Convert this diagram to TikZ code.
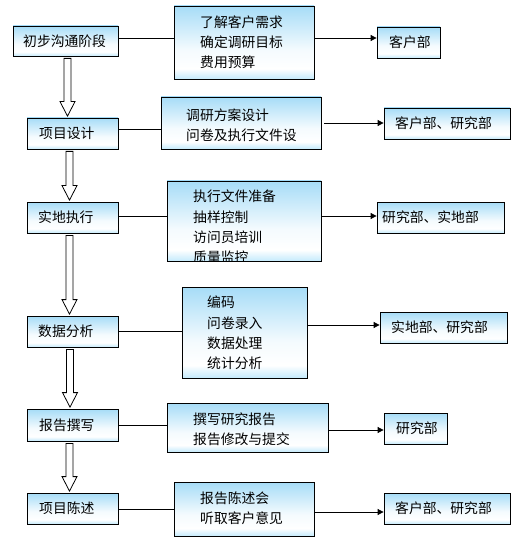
\documentclass[tikz,border=0pt]{standalone}
\usepackage{fontspec}
\newfontfamily\cjk{Noto Sans CJK SC}
\usetikzlibrary{arrows.meta,calc}
\definecolor{boxtop}{RGB}{166,220,247}
\definecolor{boxbot}{RGB}{196,234,252}
\colorlet{boxmid}{white!88!boxtop}
\pgfdeclareverticalshading{boxshade}{100bp}{color(0bp)=(boxbot); color(25bp)=(boxbot); color(32bp)=(white); color(45bp)=(boxmid); color(75bp)=(boxtop); color(100bp)=(boxtop)}
\tikzset{
  box/.style={draw=black, line width=0.8pt, shading=boxshade, inner sep=0pt},
  txt/.style={font=\cjk\fontsize{13.8pt}{20.2pt}\selectfont, inner sep=0pt, align=left},
  link/.style={draw=black, line width=0.8pt},
  conn/.style={draw=black, line width=0.8pt, -{Triangle[length=6pt,width=6pt]}},
  blockarr/.style={draw=black, fill=white, line width=0.8pt, line join=miter}
}
\newcommand\blockarrow[3]{%
  \draw[blockarr] let \p1=(#1.south), \p2=(#2.north) in
    (#3pt-3.5pt,\y1-2pt) -- (#3pt-3.5pt,\y2+16pt) -- (#3pt-7.5pt,\y2+16pt)
    -- (#3pt,\y2+1.5pt) -- (#3pt+7.5pt,\y2+16pt) -- (#3pt+3.5pt,\y2+16pt)
    -- (#3pt+3.5pt,\y1-2pt) -- cycle;}
\begin{document}
\begin{tikzpicture}[x=1pt,y=-1pt]
\useasboundingbox (0,0) rectangle (519,545);
% left column
\node[box, minimum width=105pt, minimum height=30pt] (L1) at (65.5,41) {};
\node[box, minimum width=91pt, minimum height=31pt] (L2) at (72.5,133.5) {};
\node[box, minimum width=91pt, minimum height=31pt] (L3) at (72.5,217.5) {};
\node[box, minimum width=91pt, minimum height=31pt] (L4) at (72.5,331.5) {};
\node[box, minimum width=91pt, minimum height=32pt] (L5) at (72.5,425) {};
\node[box, minimum width=91pt, minimum height=31pt] (L6) at (72.5,508.5) {};
\node[txt, anchor=west] (L1t) at (23,41) {初步沟通阶段};
\node[txt, anchor=west] (L2t) at (39,133.5) {项目设计};
\node[txt, anchor=west] (L3t) at (38,217.5) {实地执行};
\node[txt, anchor=west] (L4t) at (38,331.5) {数据分析};
\node[txt, anchor=west] (L5t) at (39,425) {报告撰写};
\node[txt, anchor=west] (L6t) at (39,508.5) {项目陈述};
% middle column
\node[box, minimum width=140pt, minimum height=73pt] (M1) at (244,42.5) {};
\node[box, minimum width=160pt, minimum height=52pt] (M2) at (241,123) {};
\node[box, minimum width=154pt, minimum height=80pt] (M3) at (244,221) {};
\node[box, minimum width=125pt, minimum height=91pt] (M4) at (244.5,332.5) {};
\node[box, minimum width=161pt, minimum height=49pt] (M5) at (247.5,427.5) {};
\node[box, minimum width=140pt, minimum height=54pt] (M6) at (244,509) {};
\node[txt, anchor=west] (M1t) at (200,42.5) {了解客户需求\\确定调研目标\\费用预算};
\node[txt, anchor=west] (M2t) at (186,125) {调研方案设计\\问卷及执行文件设};
\begin{scope}
\clip ([shift={(0.5pt,0.5pt)}]M3.south west) rectangle ([shift={(-0.5pt,-0.5pt)}]M3.north east);
\node[txt, anchor=west] (M3t) at (193,227) {执行文件准备\\抽样控制\\访问员培训\\质量监控};
\end{scope}
\node[txt, anchor=west] (M4t) at (207,333) {编码\\问卷录入\\数据处理\\统计分析};
\node[txt, anchor=west] (M5t) at (193,429) {撰写研究报告\\报告修改与提交};
\node[txt, anchor=west] (M6t) at (200,508) {报告陈述会\\听取客户意见};
% right column
\node[box, minimum width=63pt, minimum height=31pt] (R1) at (408.5,42.5) {};
\node[box, minimum width=126pt, minimum height=31pt] (R2) at (447,123.5) {};
\node[box, minimum width=127pt, minimum height=31pt] (R3) at (440.5,217.5) {};
\node[box, minimum width=127pt, minimum height=31pt] (R4) at (443.5,327.5) {};
\node[box, minimum width=63pt, minimum height=31pt] (R5) at (415.5,428.5) {};
\node[box, minimum width=126pt, minimum height=31pt] (R6) at (447,508.5) {};
\node[txt, anchor=west] (R1t) at (389,42.5) {客户部};
\node[txt, anchor=west] (R2t) at (395,123.5) {客户部、研究部};
\node[txt, anchor=west] (R3t) at (382,217.5) {研究部、实地部};
\node[txt, anchor=west] (R4t) at (391,327.5) {实地部、研究部};
\node[txt, anchor=west] (R5t) at (396,428.5) {研究部};
\node[txt, anchor=west] (R6t) at (395,508.5) {客户部、研究部};
% helper levels
\coordinate (la1) at (0,38);  \coordinate (ra1) at (0,38);
\coordinate (la2) at (0,129); \coordinate (ra2) at (0,123);
\coordinate (la3) at (0,216); \coordinate (ra3) at (0,216);
\coordinate (la4) at (0,331); \coordinate (ra4) at (0,325);
\coordinate (la5) at (0,425); \coordinate (ra5) at (0,430);
\coordinate (la6) at (0,509); \coordinate (ra6) at (0,512);
% links left -> middle
\draw[link] (L1.east |- la1) -- (M1.west |- la1);
\draw[link] (L2.east |- la2) -- (M2.west |- la2);
\draw[link] (L3.east |- la3) -- (M3.west |- la3);
\draw[link] (L4.east |- la4) -- (M4.west |- la4);
\draw[link] (L5.east |- la5) -- (M5.west |- la5);
\draw[link] (L6.east |- la6) -- (M6.west |- la6);
% arrows middle -> right
\draw[conn] (M1.east |- ra1) -- (R1.west |- ra1);
\draw[conn] ([xshift=3pt]M2.east |- ra2) -- (R2.west |- ra2);
\draw[conn] (M3.east |- ra3) -- (R3.west |- ra3);
\draw[conn] (M4.east |- ra4) -- (R4.west |- ra4);
\draw[conn] (M5.east |- ra5) -- (R5.west |- ra5);
\draw[conn] (M6.east |- ra6) -- (R6.west |- ra6);
% block arrows down the left column
\blockarrow{L1}{L2}{67.5}
\blockarrow{L2}{L3}{69.5}
\blockarrow{L3}{L4}{69.5}
\blockarrow{L4}{L5}{70}
\blockarrow{L5}{L6}{69.5}
\end{tikzpicture}
\end{document}
